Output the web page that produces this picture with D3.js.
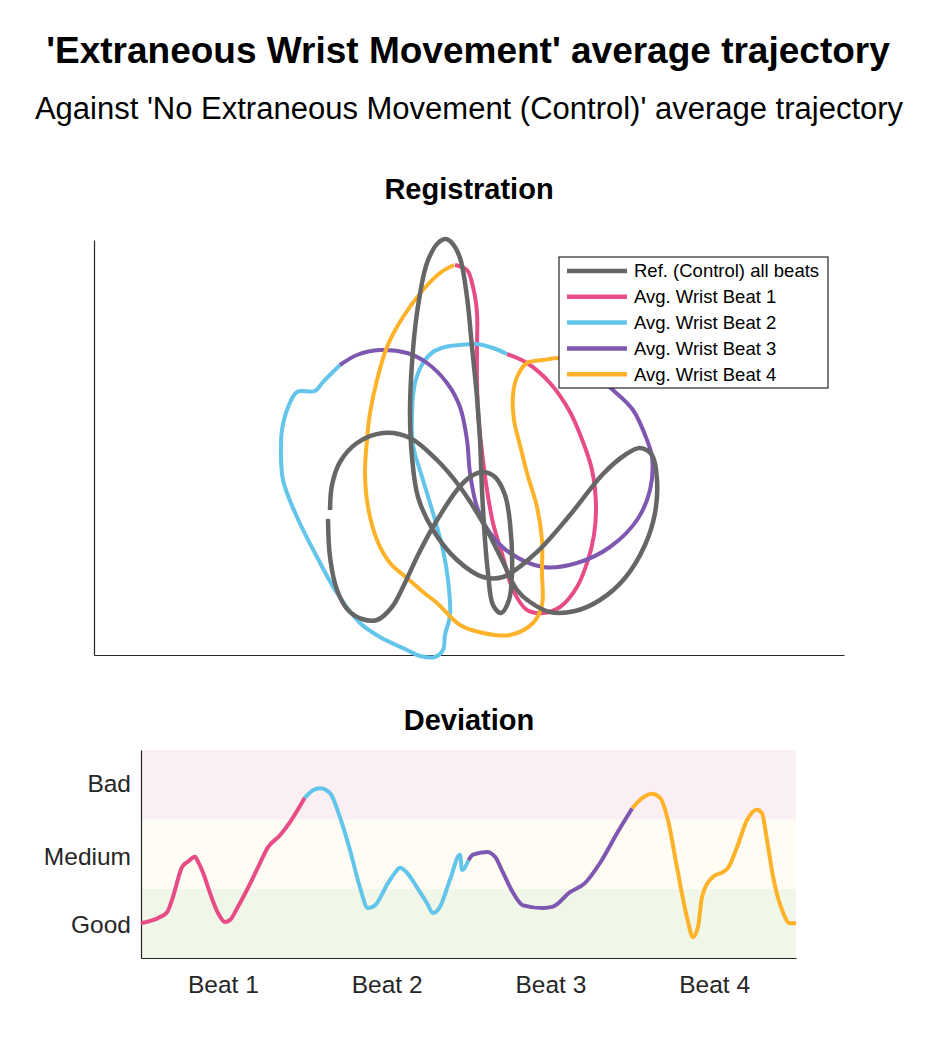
<!DOCTYPE html>
<html><head><meta charset="utf-8">
<script src="https://cdn.jsdelivr.net/npm/d3@7"></script>
<style>body{margin:0;background:#fff}svg{display:block;font-family:"Liberation Sans",Arial,Helvetica,sans-serif}</style>
</head><body>
<svg id="c" width="938" height="1042"></svg>
<script>
// ---------- DATA ----------
const legendLabels = ["Ref. (Control) all beats","Avg. Wrist Beat 1","Avg. Wrist Beat 2","Avg. Wrist Beat 3","Avg. Wrist Beat 4"];
const seriesColors = ["#666666","#e84c87","#63c5ea","#7e58b0","#fdb22a"];
const devLevels = ["Good","Medium","Bad"];
const bandColors = ["#f0f6e8","#fefcf3","#faf0f3"];
const beatLabels = ["Beat 1","Beat 2","Beat 3","Beat 4"];

// registration trajectories (x, y) in plot units
const refPath = [[234,136],[236,98],[243,65],[254,45],[268,36],[283,35],[298,48],[309,68],[324,100],[339,128],[363,165],[376,178],[389,183],[401,178],[411,160],[416,132],[418,82],[415,55],[407,42],[399,50],[394,82],[391,115],[388,165],[386,215],[383,258],[378,308],[373,358],[366,397],[358,412],[352,416],[344,412],[333,392],[323,342],[318,292],[316,242],[318,198],[324,158],[339,125],[363,95],[389,78],[409,78],[443,103],[476,140],[509,181],[531,200],[546,207],[558,200],[563,175],[561,142],[551,110],[531,77],[506,55],[481,44],[456,43],[436,53],[423,65],[409,93],[389,132],[366,168],[343,195],[316,217],[289,222],[263,212],[246,193],[238,170],[236,145]];
const beat1Path = [[361,390],[373,385],[379,368],[383,342],[383,308],[383,275],[384,242],[387,212],[393,165],[399,132],[409,98],[419,65],[433,45],[449,42],[466,48],[483,68],[494,95],[500,120],[502,150],[498,185],[489,213],[476,243],[456,272],[433,292],[413,301]];
const beat2Path = [[413,301],[399,307],[383,311],[366,310],[351,308],[339,303],[329,292],[321,272],[318,242],[319,210],[329,175],[339,142],[349,105],[354,75],[356,40],[351,20],[349,5],[341,-2],[326,-1],[313,5],[286,18],[266,32],[243,62],[223,98],[203,138],[189,175],[187,210],[188,225],[193,245],[203,263],[221,264],[229,273],[246,290]];
const beat3Path = [[246,290],[263,300],[286,305],[313,302],[333,292],[353,272],[366,248],[373,215],[376,182],[383,148],[396,122],[416,102],[449,88],[483,92],[516,108],[543,135],[556,165],[558,198],[553,215],[539,245],[519,265],[501,280],[481,294]];
const beat4Path = [[481,294],[466,297],[449,295],[433,292],[423,278],[419,260],[420,235],[426,210],[433,182],[443,148],[448,115],[448,82],[448,50],[439,32],[416,20],[389,22],[366,30],[343,52],[329,63],[313,77],[296,92],[283,115],[274,148],[271,182],[273,215],[276,242],[283,275],[293,308],[309,338],[329,365],[346,382],[360,390]];

// deviation (beat position, level)
const dev1 = [[0,0.50],[0.116,0.59],[0.159,0.66],[0.195,0.88],[0.25,1.31],[0.287,1.39],[0.33,1.46],[0.348,1.39],[0.379,1.23],[0.421,0.94],[0.47,0.65],[0.513,0.52],[0.544,0.55],[0.592,0.74],[0.653,1.01],[0.715,1.31],[0.776,1.60],[0.849,1.77],[0.91,1.96],[1.0,2.31]];
const dev2 = [[1.0,2.31],[1.05,2.42],[1.093,2.45],[1.154,2.38],[1.215,2.03],[1.276,1.56],[1.337,1.02],[1.386,0.72],[1.429,0.76],[1.508,1.08],[1.551,1.23],[1.582,1.30],[1.624,1.23],[1.685,1.02],[1.747,0.79],[1.783,0.65],[1.826,0.74],[1.887,1.13],[1.948,1.49],[1.96,1.27],[2.0,1.41]];
const dev3 = [[2.0,1.41],[2.027,1.49],[2.113,1.53],[2.162,1.46],[2.211,1.23],[2.272,0.94],[2.333,0.76],[2.455,0.72],[2.516,0.74],[2.62,0.95],[2.711,1.08],[2.803,1.37],[2.907,1.80],[3.0,2.16]];
const dev4 = [[3.0,2.16],[3.047,2.28],[3.121,2.37],[3.17,2.31],[3.218,1.99],[3.273,1.31],[3.334,0.59],[3.371,0.30],[3.402,0.45],[3.426,0.88],[3.493,1.17],[3.554,1.24],[3.585,1.30],[3.64,1.60],[3.701,1.99],[3.762,2.14],[3.792,2.09],[3.823,1.70],[3.86,1.17],[3.915,0.69],[3.963,0.50],[4.0,0.50]];

// ---------- DRAW ----------
const svg = d3.select("#c");
const ink = "#262626";

svg.append("text").attr("x",468).attr("y",63).attr("text-anchor","middle")
  .attr("font-size",37).attr("font-weight","bold").attr("fill","#000")
  .text("'Extraneous Wrist Movement' average trajectory");
svg.append("text").attr("x",469).attr("y",119).attr("text-anchor","middle")
  .attr("font-size",31).attr("fill","#000")
  .text("Against 'No Extraneous Movement (Control)' average trajectory");

// Registration panel
const R = {l:94,r:844,t:240,b:655};
const rx = d3.scaleLinear().domain([0,750]).range([R.l,R.r]);
const ry = d3.scaleLinear().domain([0,415]).range([R.b,R.t]);
svg.append("text").attr("x",469).attr("y",199).attr("text-anchor","middle")
  .attr("font-size",29).attr("font-weight","bold").attr("fill","#000").text("Registration");

const rAxisL = svg.append("g").attr("transform",`translate(${R.l},0)`).call(d3.axisLeft(ry).tickValues([]).tickSizeOuter(0));
const rAxisB = svg.append("g").attr("transform",`translate(0,${R.b})`).call(d3.axisBottom(rx).tickValues([]).tickSizeOuter(0));
[rAxisL,rAxisB].forEach(a=>a.select(".domain").attr("stroke",ink).attr("stroke-width",1.2));

const rline = d3.line().x(d=>rx(d[0])).y(d=>ry(d[1])).curve(d3.curveCatmullRom.alpha(0.5));
const beatPaths = [beat1Path,beat2Path,beat3Path,beat4Path];
beatPaths.forEach((p,i)=>{
  svg.append("path").attr("d",rline(p)).attr("fill","none").attr("stroke",seriesColors[i+1])
    .attr("stroke-width",4).attr("stroke-linejoin","round");
});
svg.append("path").attr("d",rline(refPath)).attr("fill","none").attr("stroke",seriesColors[0])
  .attr("stroke-width",4.5).attr("stroke-linejoin","round");

// legend
const L = {x:559,y:257,w:269,h:131};
svg.append("rect").attr("x",L.x).attr("y",L.y).attr("width",L.w).attr("height",L.h)
  .attr("fill","#fff").attr("stroke",ink).attr("stroke-width",1.2);
legendLabels.forEach((t,i)=>{
  const yy = L.y+14+i*25.8;
  svg.append("line").attr("x1",L.x+8).attr("x2",L.x+68).attr("y1",yy).attr("y2",yy)
    .attr("stroke",seriesColors[i]).attr("stroke-width",4.5);
  svg.append("text").attr("x",L.x+75).attr("y",yy).attr("dy","0.35em")
    .attr("font-size",18.5).attr("fill","#000").text(t);
});

// Deviation panel
const D = {l:141,r:796,t:750,b:958};
const dx = d3.scaleLinear().domain([0,4]).range([D.l,D.r]);
const dy = d3.scaleLinear().domain([0,3]).range([D.b,D.t]);
svg.append("text").attr("x",469).attr("y",730).attr("text-anchor","middle")
  .attr("font-size",29).attr("font-weight","bold").attr("fill","#000").text("Deviation");

devLevels.forEach((lv,i)=>{
  svg.append("rect").attr("x",dx(0)).attr("y",dy(i+1)).attr("width",dx(4)-dx(0))
    .attr("height",dy(i)-dy(i+1)).attr("fill",bandColors[i]);
});
const yAx = svg.append("g").attr("transform",`translate(${D.l},0)`)
  .call(d3.axisLeft(dy).tickValues([0.48,1.46,2.52]).tickFormat((d,i)=>devLevels[i]).tickSize(0).tickPadding(10).tickSizeOuter(0));
const xAx = svg.append("g").attr("transform",`translate(0,${D.b})`)
  .call(d3.axisBottom(dx).tickValues([0.5,1.5,2.5,3.5]).tickFormat((d,i)=>beatLabels[i]).tickSize(0).tickPadding(18).tickSizeOuter(0));
[yAx,xAx].forEach(a=>{
  a.select(".domain").attr("stroke",ink).attr("stroke-width",1.2);
  a.selectAll("text").attr("font-size",24.5).attr("fill",ink).attr("font-family","Liberation Sans, Arial, sans-serif");
});

const dline = d3.line().x(d=>dx(d[0])).y(d=>dy(d[1])).curve(d3.curveMonotoneX);
[dev1,dev2,dev3,dev4].forEach((p,i)=>{
  svg.append("path").attr("d",dline(p)).attr("fill","none").attr("stroke",seriesColors[i+1])
    .attr("stroke-width",4).attr("stroke-linejoin","round");
});
</script>
</body></html>
